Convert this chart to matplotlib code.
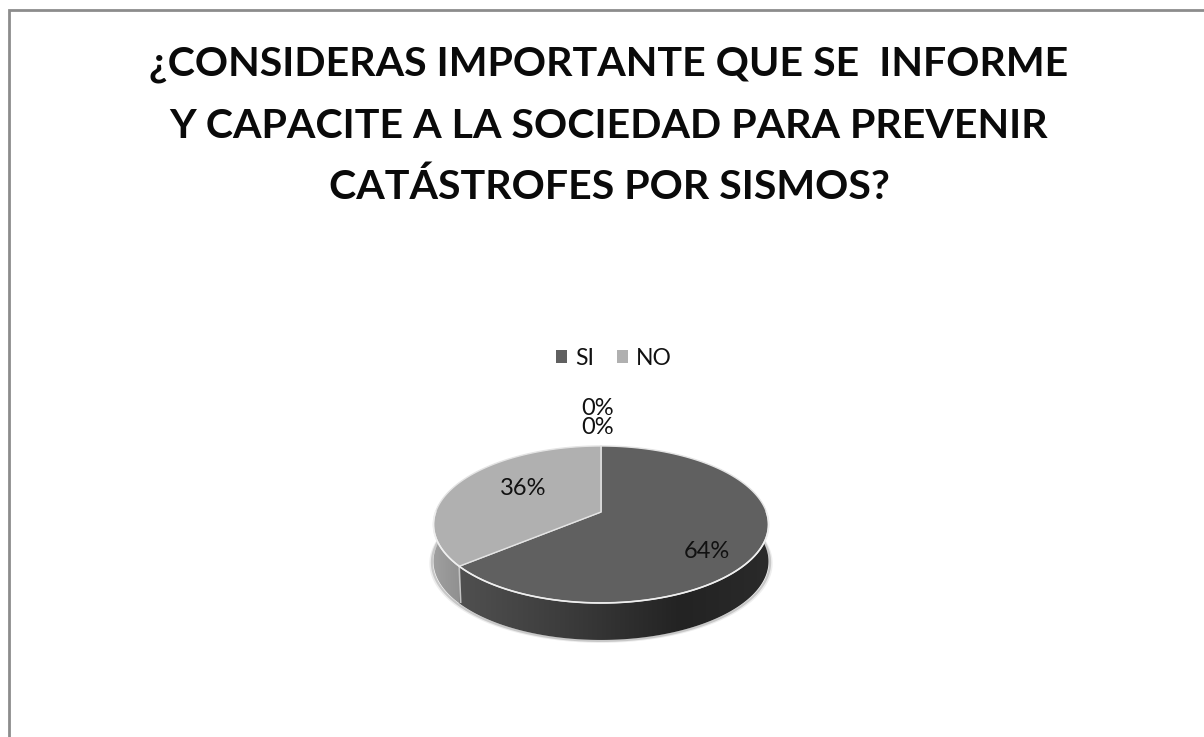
import numpy as np
import matplotlib
matplotlib.use("Agg")
import matplotlib.pyplot as plt
from matplotlib.patches import Patch, Polygon
from matplotlib.colors import to_rgb

# --- data
title_lines = ["¿CONSIDERAS IMPORTANTE QUE SE  INFORME",
               "Y CAPACITE A LA SOCIEDAD PARA PREVENIR",
               "CATÁSTROFES POR SISMOS?"]
categories = ["SI", "NO", "", ""]
values = [64, 36, 0, 0]

# --- style
plt.rcParams["font.family"] = ["Lato", "DejaVu Sans"]
top_colors = ["#606060", "#b0b0b0"]
BORDER = "#8c8c8c"
RIM = "#e4e4e4"
CX, CY = 601.0, 512.0   # pixel position of the pie's centre
A, B, K = 165.4, 76.5, 0.159  # perspective projection of the disc
DEPTH = 37.0

fig = plt.figure(figsize=(12.04, 7.37), dpi=100, facecolor="white")
ax = fig.add_axes([0, 0, 1, 1])
ax.set_xlim(0, 1204)
ax.set_ylim(737, 0)
ax.axis("off")


def project(theta, r=1.0):
    """theta: clockwise from the top, radians."""
    u, v = r * np.sin(theta), r * np.cos(theta)
    d = 1 + K * v
    return CX + A * u / d, CY - B * v / d


def gradient(stops, x0, x1):
    xs = [s[0] for s in stops]
    rgb = np.array([to_rgb(s[1]) for s in stops])
    grid = np.linspace(x0, x1, 400)
    return np.stack([np.interp(grid, xs, rgb[:, i]) for i in range(3)], axis=-1)[None, :, :]


dark_stops = [(459, "#505050"), (560, "#3d3d3d"), (680, "#232323"), (770, "#2a2a2a")]
light_stops = [(433, "#a0a0a0"), (462, "#8f8f8f")]
side_stops = [dark_stops, light_stops]

fractions = np.array(values, dtype=float) / sum(values)
edges = np.concatenate([[0], np.cumsum(fractions)]) * 2 * np.pi

# soft shadow below the pie
t = np.linspace(np.pi * 0.45, np.pi * 1.55, 300)
sx, sy = project(t)
for grow, col in [(3.0, "#ededed"), (1.5, "#c8c8c8")]:
    ax.plot(sx + (sx - CX) * grow / 167, sy + DEPTH + grow * 0.6, color=col, lw=1.6,
            solid_capstyle="round", zorder=1)

# side wall
for i, stops in enumerate(side_stops):
    ts = np.linspace(edges[i], edges[i + 1], 400)
    ts = ts[np.cos(ts) <= 0.08]  # only the front of the pie is visible
    x, y = project(ts)
    poly = Polygon(np.c_[np.r_[x, x[::-1]], np.r_[y, y[::-1] + DEPTH]], closed=True,
                   facecolor="none", edgecolor="none", transform=ax.transData)
    ax.add_patch(poly)
    x0, x1 = x.min() - 2, x.max() + 2
    im = ax.imshow(gradient(stops, x0, x1), extent=(x0, x1, 700, 480), aspect="auto",
                   interpolation="bilinear", zorder=2)
    im.set_clip_path(poly)
ax.set_xlim(0, 1204)
ax.set_ylim(737, 0)

# divider on the side wall
xs, ys = project(edges[1])
ax.plot([xs, xs + 1.5], [ys, ys + DEPTH - 1], color="#c4c4c4", lw=1.2, zorder=3)

# top faces
for i in range(2):
    ts = np.linspace(edges[i], edges[i + 1], 240)
    x, y = project(ts)
    ax.fill(np.r_[CX, x], np.r_[CY, y], facecolor=top_colors[i], edgecolor=RIM, lw=1.0,
            joinstyle="round", zorder=4)

# bright rim on the front edge
t = np.linspace(np.pi * 0.5, np.pi * 1.5, 240)
x, y = project(t)
ax.plot(x, y, color="#efefef", lw=1.2, zorder=5)

# labels
pct = [f"{v}%" for v in values]
for txt, (lx, ly) in zip(pct, [(707, 552), (523, 488), (598, 427), (598, 408)]):
    ax.text(lx, ly, txt, ha="center", va="center", fontsize=17, color="#111111", zorder=6)

# legend
handles = [Patch(facecolor=top_colors[i], edgecolor="none", label=categories[i]) for i in range(2)]
ax.legend(handles=handles, ncol=2, loc="center", bbox_to_anchor=(614, 358), bbox_transform=ax.transData,
          frameon=False, fontsize=16.5, handlelength=0.48, handleheight=0.48, handletextpad=0.34,
          columnspacing=1.0, labelcolor="#111111")

# title
for line, yy in zip(title_lines, [64, 126, 187]):
    ax.text(609, yy, line, ha="center", va="center", fontsize=29.6, fontweight="bold", color="#0a0a0a")

# border (top and left only)
ax.plot([8.5, 8.5, 1204], [737, 10.2, 10.2], color=BORDER, lw=2.0, solid_joinstyle="miter")

fig.savefig("out.png", dpi=100, facecolor="white")
